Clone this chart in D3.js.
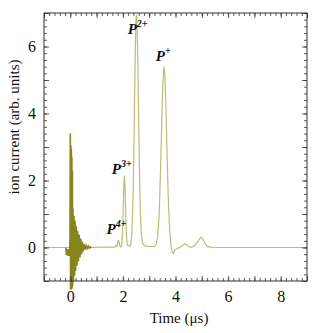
<!DOCTYPE html>
<html><head><meta charset="utf-8">
<script src="https://cdn.jsdelivr.net/npm/d3@7"></script>
<style>
html,body{margin:0;padding:0;background:#fff;}
svg{display:block;}
</style></head>
<body>
<script>
// ---- data ----
const traceTime = [-1.0,-0.5,-0.17,0.8,1.2,1.6,1.70,1.74,1.77,1.80,1.83,1.86,1.89,1.92,1.95,1.98,2.01,2.04,2.06,2.08,2.11,2.14,2.17,2.20,2.24,2.27,2.30,2.34,2.38,2.41,2.44,2.47,2.49,2.515,2.54,2.57,2.60,2.63,2.66,2.70,2.75,2.82,2.90,3.0,3.2,3.26,3.32,3.38,3.43,3.48,3.52,3.56,3.60,3.64,3.68,3.72,3.76,3.80,3.84,3.88,3.92,3.96,4.02,4.10,4.20,4.28,4.36,4.44,4.52,4.60,4.70,4.80,4.90,4.97,5.04,5.12,5.20,5.30,5.6,9.0];
const traceValue = [0,0,0,0,0.01,0.01,0.02,0.06,0.03,0.12,0.23,0.15,0.04,0.02,0.05,0.35,1.1,1.95,2.15,1.8,0.9,0.3,0.08,0.05,0.06,0.04,0.1,0.4,1.3,2.6,4.2,5.8,6.7,6.95,6.6,5.4,3.8,2.3,1.1,0.4,0.12,0.05,0.04,0.03,0.03,0.08,0.3,1.0,2.3,3.8,4.9,5.4,5.1,4.1,2.8,1.6,0.8,0.3,0.0,-0.15,-0.18,-0.08,-0.05,-0.02,0.02,0.07,0.11,0.07,0.02,0.01,0.04,0.12,0.24,0.31,0.26,0.12,0.04,0.01,0,0];
const ringTime = [-0.17,-0.15,-0.13,-0.11,-0.09,-0.07,-0.05,-0.03,-0.01,0.0,0.01,0.02,0.03,0.04,0.05,0.06,0.07,0.08,0.09,0.10,0.12,0.14,0.16,0.18,0.20,0.22,0.25,0.28,0.31,0.34,0.37,0.40,0.43,0.46,0.49,0.52,0.56,0.60,0.64,0.68,0.72,0.76,0.80];
const ringValue = [0,-0.22,-0.05,-0.24,-0.06,-0.25,-0.05,-0.25,0.3,3.4,-1.25,3.05,-1.25,2.95,-1.25,2.7,-1.2,2.3,-1.15,1.16,-1.0,0.95,-0.85,0.8,-0.7,0.65,-0.55,0.5,-0.42,0.38,-0.3,0.27,-0.2,0.17,-0.12,0.1,-0.06,0.06,-0.03,0.04,-0.02,0.02,0];
const xTicks = [0,2,4,6,8];
const yTicks = [0,2,4,6];
const peakLabels = [
  {name:"P", sup:"2+", t:2.18, v:6.38},
  {name:"P", sup:"+",  t:3.25, v:5.58},
  {name:"P", sup:"3+", t:1.58, v:2.2},
  {name:"P", sup:"4+", t:1.38, v:0.4}
];

// ---- layout ----
const W = 312, H = 333;
const m = {left:44, right:5, top:13, bottom:52};
const svg = d3.select("body").append("svg").attr("width", W).attr("height", H);

const x = d3.scaleLinear().domain([-1, 9]).range([m.left, W - m.right]);
const y = d3.scaleLinear().domain([-1, 7]).range([H - m.bottom, m.top]);

const font = "'Liberation Serif','Times New Roman',serif";

// traces
const line = d3.line().x(d => x(d[0])).y(d => y(d[1]));
const trace = traceTime.map((t, i) => [t, traceValue[i]]);
const ring = ringTime.map((t, i) => [t, ringValue[i]]);

svg.append("path").datum(trace).attr("d", line)
  .attr("fill", "none").attr("stroke", "#bcbc78").attr("stroke-width", 1.2);
svg.append("path").datum(ring).attr("d", line)
  .attr("fill", "none").attr("stroke", "#85851c").attr("stroke-width", 1.6);

// axes (ticks inside, on all four sides)
const minorX = d3.range(-1, 9.001, 0.2).map(v => +v.toFixed(1));
const majorX = d3.range(-1, 10, 1);
const minorY = d3.range(-1, 7.001, 0.2).map(v => +v.toFixed(1));
const majorY = d3.range(-1, 8, 1);

function axisGroup(axisFn, scale, tr, vals, size) {
  const g = svg.append("g").attr("transform", tr)
    .call(axisFn(scale).tickValues(vals).tickSize(size).tickFormat(""));
  g.select(".domain").remove();
  g.selectAll("line").attr("stroke", "#333").attr("stroke-width", 0.8);
  return g;
}
const bottomY = H - m.bottom, topY = m.top, leftX = m.left, rightX = W - m.right;
axisGroup(d3.axisTop, x, `translate(0,${bottomY})`, minorX, 3);
axisGroup(d3.axisTop, x, `translate(0,${bottomY})`, majorX, 5);
axisGroup(d3.axisBottom, x, `translate(0,${topY})`, minorX, 3);
axisGroup(d3.axisBottom, x, `translate(0,${topY})`, majorX, 5);
axisGroup(d3.axisRight, y, `translate(${leftX},0)`, minorY, 3);
axisGroup(d3.axisRight, y, `translate(${leftX},0)`, majorY, 5);
axisGroup(d3.axisLeft, y, `translate(${rightX},0)`, minorY, 3);
axisGroup(d3.axisLeft, y, `translate(${rightX},0)`, majorY, 5);

// frame
svg.append("rect").attr("x", leftX).attr("y", topY)
  .attr("width", rightX - leftX).attr("height", bottomY - topY)
  .attr("fill", "none").attr("stroke", "#333").attr("stroke-width", 1);

// tick labels
const xl = svg.append("g").attr("transform", `translate(0,${bottomY})`)
  .call(d3.axisBottom(x).tickValues(xTicks).tickSize(0).tickPadding(10).tickFormat(d3.format("d")));
xl.select(".domain").remove();
xl.selectAll("text").attr("font-family", font).attr("font-size", 16).attr("fill", "#111");

const yl = svg.append("g").attr("transform", `translate(${leftX},0)`)
  .call(d3.axisLeft(y).tickValues(yTicks).tickSize(0).tickPadding(8).tickFormat(d3.format("d")));
yl.select(".domain").remove();
yl.selectAll("text").attr("font-family", font).attr("font-size", 16).attr("fill", "#111");

// axis titles
svg.append("text").attr("x", 179).attr("y", 323).attr("text-anchor", "middle")
  .attr("font-family", font).attr("font-size", 15).attr("fill", "#111").text("Time (μs)");
svg.append("text").attr("transform", "translate(19,127) rotate(-90)").attr("text-anchor", "middle")
  .attr("font-family", font).attr("font-size", 15).attr("fill", "#111").text("ion current (arb. units)");

// peak labels
peakLabels.forEach(p => {
  const t = svg.append("text").attr("x", x(p.t)).attr("y", y(p.v))
    .attr("font-family", font).attr("font-size", 15).attr("font-weight", "bold")
    .attr("font-style", "italic").attr("fill", "#111");
  t.append("tspan").text(p.name);
  t.append("tspan").attr("dy", -7).attr("font-size", 10).text(p.sup);
});
</script>
</body></html>
